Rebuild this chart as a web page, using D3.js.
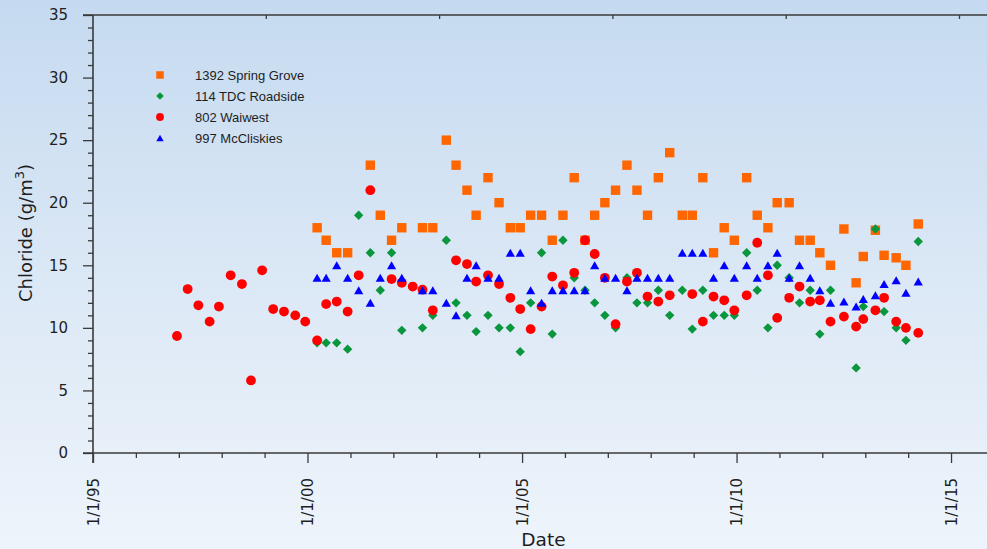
<!DOCTYPE html>
<html>
<head>
<meta charset="utf-8">
<script src="https://cdn.jsdelivr.net/npm/d3@7/dist/d3.min.js"></script>
<style>
  html, body { margin: 0; padding: 0; background: #ffffff; }
  svg { display: block; }
</style>
</head>
<body>
<svg id="chart" width="987" height="549"></svg>
<script>
// Sampling dates shared by the four monitoring bores
const sampleDates = [
  "1996-12-16","1997-03-17","1997-06-16","1997-09-20","1997-12-08","1998-03-18","1998-06-22",
  "1998-09-07","1998-12-11","1999-03-15","1999-06-15","1999-09-19","1999-12-13",
  "2000-03-23","2000-06-08","2000-09-06","2000-12-08","2001-03-12","2001-06-19","2001-09-12","2001-12-17",
  "2002-03-14","2002-06-15","2002-09-06","2002-12-03","2003-03-28","2003-06-19","2003-09-20","2003-12-07",
  "2004-03-17","2004-06-19","2004-09-23","2004-12-16","2005-03-15","2005-06-16","2005-09-15","2005-12-15",
  "2006-03-21","2006-06-21","2006-09-11","2006-12-07","2007-03-08","2007-06-13","2007-09-06","2007-12-05",
  "2008-03-06","2008-06-11","2008-09-26","2008-12-20","2009-03-20","2009-06-19","2009-09-18","2009-12-13",
  "2010-03-28","2010-06-26","2010-09-25","2010-12-13","2011-03-25","2011-06-21","2011-09-20","2011-12-11",
  "2012-03-11","2012-07-03","2012-10-15","2012-12-15","2013-03-28","2013-06-10","2013-09-21","2013-12-13",
  "2014-03-28"
];

// Chloride concentrations (g/m3); null where a bore was not sampled
const earlyGap = [null,null,null,null,null,null,null,null,null,null,null,null,null];

const springGrove = earlyGap.concat([
  18,17,16,16,null,23,19,17,18,null,
  18,18,25,23,21,19,22,20,18,18,
  19,19,17,19,22,17,19,20,21,23,
  21,19,22,24,19,19,22,16,18,17,
  22,19,18,20,20,17,17,16,15,17.9,
  13.6,15.7,17.8,15.8,15.6,15.0,18.3
]);

const tdcRoadside = earlyGap.concat([
  8.8,8.8,8.8,8.3,19,16,13,16,9.8,null,
  10,11,17,12,11,9.7,11,10,10,8.1,
  12,16,9.5,17,14,13,12,11,10,14,
  12,12,13,11,13,9.9,13,11,11,11,
  16,13,10,15,14,12,13,9.5,13,null,
  6.8,11.7,17.9,11.3,10.0,9.0,16.9
]);

const waiwest = [
  9.35,13.1,11.8,10.5,11.7,14.2,13.5,5.8,14.6,11.5,11.3,11.0,10.5,
  9.0,11.9,12.1,11.3,14.2,21.0,null,13.9,13.6,13.3,
  13.05,11.4,null,15.4,15.1,13.7,14.2,13.5,12.4,11.5,
  9.9,11.7,14.1,13.4,14.4,17.0,15.9,14.0,10.3,13.7,
  14.4,12.5,12.1,12.6,null,12.7,10.5,12.5,12.2,11.4,
  12.6,16.8,14.2,10.8,12.4,13.3,12.1,12.2,10.5,10.9,
  10.1,10.7,11.4,12.4,10.5,10.0,9.6
];

const mcCliskies = earlyGap.concat([
  14,14,15,14,13,12,14,15,14,null,
  13,13,12,11,14,15,14,14,16,16,
  13,12,13,13,13,13,15,14,14,13,
  14,14,14,14,16,16,16,14,15,14,
  15,14,15,16,14,15,14,13,12,12.1,
  11.7,12.3,12.6,13.5,13.8,12.8,13.7
]);

const seriesNames = ["1392 Spring Grove", "114 TDC Roadside", "802 Waiwest", "997 McCliskies"];
const seriesValues = [springGrove, tdcRoadside, waiwest, mcCliskies];
const seriesColors = ["#ff6600", "#0a963c", "#ff0000", "#0000ff"];
const seriesShapes = ["square", "diamond", "circle", "triangle"];

const yMajorTicks = [0, 5, 10, 15, 20, 25, 30, 35];
const xMajorYears = [1995, 2000, 2005, 2010, 2015];
const topFrameTicks = [0.2, 0.4, 0.6, 0.8, 1.0];

// ---- layout ----
const W = 987, H = 549;
const plotLeft = 93, plotTop = 15, plotBottom = 453;
const yearPx = 42.9;
const parse = d3.timeParse("%Y-%m-%d");
const fmtTick = d3.timeFormat("%-m/%-d/%y");

const x = d3.scaleTime()
  .domain([new Date(1995, 0, 1), new Date(2016, 0, 1)])
  .range([plotLeft, plotLeft + 21 * yearPx]);
const y = d3.scaleLinear().domain([0, 35]).range([plotBottom, plotTop]);
const frame = d3.scaleLinear().domain([0, 1]).range([plotLeft, plotLeft + 866.5]);

const svg = d3.select("#chart");

// background wash
const defs = svg.append("defs");
const grad = defs.append("linearGradient").attr("id", "bg")
  .attr("x1", 0).attr("y1", 0).attr("x2", 0).attr("y2", 1);
grad.append("stop").attr("offset", "0%").attr("stop-color", "#c5daf0");
grad.append("stop").attr("offset", "55%").attr("stop-color", "#dde9f6");
grad.append("stop").attr("offset", "100%").attr("stop-color", "#eef4fb");
svg.append("rect").attr("width", W).attr("height", H).attr("fill", "url(#bg)");

const axisColor = "#3a3a3a";
const textColor = "#1e1e1e";

// ---- y axis ----
const yMinor = d3.range(0, 36, 1).filter(v => v % 5 !== 0);
const gyMinor = svg.append("g").attr("transform", `translate(${plotLeft},0)`)
  .call(d3.axisLeft(y).tickValues(yMinor).tickSize(5).tickFormat(""));
const gy = svg.append("g").attr("transform", `translate(${plotLeft},0)`)
  .call(d3.axisLeft(y).tickValues(yMajorTicks).tickSize(10).tickPadding(15));
[gyMinor, gy].forEach(g => {
  g.select(".domain").remove();
  g.selectAll("line").attr("stroke", axisColor).attr("stroke-width", 1.3);
});
gy.selectAll("text")
  .attr("font-family", "'DejaVu Sans', Verdana, sans-serif")
  .attr("font-size", 15).attr("fill", textColor);

// ---- x axis ----
const xMinorDates = d3.range(1995, 2017).filter(yr => yr % 5 !== 0).map(yr => new Date(yr, 0, 1));
const xMajorDates = xMajorYears.map(yr => new Date(yr, 0, 1));
const gxMinor = svg.append("g").attr("transform", `translate(0,${plotBottom})`)
  .call(d3.axisBottom(x).tickValues(xMinorDates).tickSize(5).tickFormat(""));
const gx = svg.append("g").attr("transform", `translate(0,${plotBottom})`)
  .call(d3.axisBottom(x).tickValues(xMajorDates).tickSize(10).tickFormat(fmtTick));
[gxMinor, gx].forEach(g => {
  g.select(".domain").remove();
  g.selectAll("line").attr("stroke", axisColor).attr("stroke-width", 1.3);
});
gx.selectAll("text")
  .attr("font-family", "'DejaVu Sans', Verdana, sans-serif")
  .attr("font-size", 15).attr("fill", textColor)
  .attr("text-anchor", "end")
  .attr("transform", "rotate(-90)")
  .attr("x", -25).attr("y", 0).attr("dy", "0.35em");

// top frame ticks
svg.append("g").selectAll("line").data(topFrameTicks).join("line")
  .attr("x1", d => frame(d)).attr("x2", d => frame(d))
  .attr("y1", plotTop).attr("y2", plotTop + 4)
  .attr("stroke", axisColor).attr("stroke-width", 1.3);

// frame lines: left, bottom and top edges
svg.append("line").attr("x1", plotLeft).attr("x2", plotLeft).attr("y1", plotTop).attr("y2", plotBottom + 10)
  .attr("stroke", axisColor).attr("stroke-width", 1.6);
svg.append("line").attr("x1", plotLeft - 10).attr("x2", W).attr("y1", plotBottom).attr("y2", plotBottom)
  .attr("stroke", axisColor).attr("stroke-width", 1.6);
svg.append("line").attr("x1", plotLeft - 10).attr("x2", W).attr("y1", plotTop).attr("y2", plotTop)
  .attr("stroke", axisColor).attr("stroke-width", 1.6);

// ---- axis titles ----
const yTitle = svg.append("text")
  .attr("transform", `translate(32,233) rotate(-90)`)
  .attr("text-anchor", "middle")
  .attr("font-family", "'DejaVu Sans', Verdana, sans-serif")
  .attr("font-size", 18).attr("fill", textColor);
yTitle.append("tspan").text("Chloride (g/m");
yTitle.append("tspan").attr("dy", -8).attr("font-size", 13).text("3");
yTitle.append("tspan").attr("dy", 8).text(")");

svg.append("text")
  .attr("x", (x.range()[0] + x.range()[1]) / 2).attr("y", 546)
  .attr("text-anchor", "middle")
  .attr("font-family", "'DejaVu Sans', Verdana, sans-serif")
  .attr("font-size", 18.5).attr("fill", textColor)
  .text("Date");

// ---- marker shapes ----
function shapePath(shape, s) {
  if (shape === "square") {
    const h = 4.7 * s;
    return `M${-h},${-h}H${h}V${h}H${-h}Z`;
  }
  if (shape === "diamond") {
    const h = 4.7 * s;
    return `M0,${-h}L${h},0L0,${h}L${-h},0Z`;
  }
  if (shape === "circle") {
    const r = 4.9 * s;
    return `M${r},0A${r},${r} 0 1,1 ${-r},0A${r},${r} 0 1,1 ${r},0Z`;
  }
  // triangle, centred on its bounding box
  const w = 4.6 * s, h = 4.0 * s;
  return `M0,${-h}L${w},${h}L${-w},${h}Z`;
}

// ---- data points (drawn in legend order) ----
const dates = sampleDates.map(parse);
seriesValues.forEach((vals, i) => {
  const pts = vals.map((v, k) => ({ date: dates[k], value: v })).filter(d => d.value !== null);
  svg.append("g").selectAll("path").data(pts).join("path")
    .attr("d", shapePath(seriesShapes[i], 1))
    .attr("transform", d => `translate(${x(d.date)},${y(d.value)})`)
    .attr("fill", seriesColors[i]);
});

// ---- legend ----
const legend = svg.append("g").attr("transform", "translate(160,75)");
seriesNames.forEach((name, i) => {
  const row = legend.append("g").attr("transform", `translate(0,${i * 21})`);
  row.append("path").attr("d", shapePath(seriesShapes[i], 0.8)).attr("fill", seriesColors[i]);
  row.append("text").attr("x", 35).attr("y", 0).attr("dy", "0.36em")
    .attr("font-family", "'Liberation Sans', Arial, sans-serif")
    .attr("font-size", 13).attr("fill", textColor)
    .text(name);
});
</script>
</body>
</html>
